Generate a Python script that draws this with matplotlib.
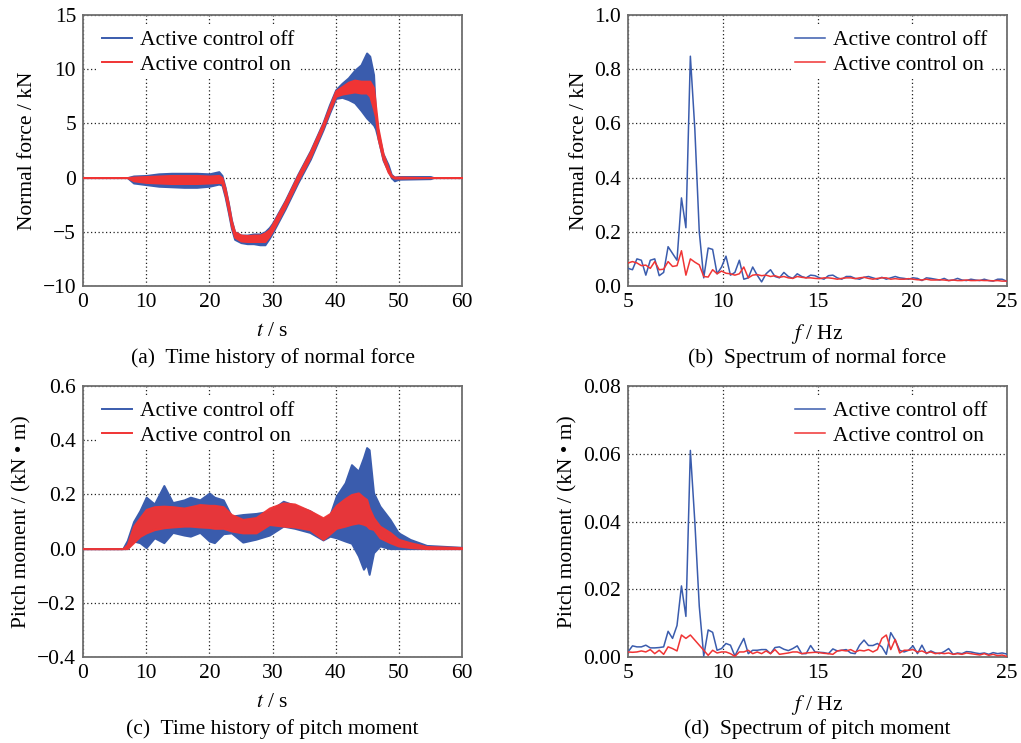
import numpy as np
import matplotlib
matplotlib.use("Agg")
import matplotlib.pyplot as plt

plt.rcParams["font.family"] = ["Liberation Serif", "DejaVu Serif"]
plt.rcParams["mathtext.fontset"] = "stix"

AZUL, ROJO = "#3a5cad", "#f03434"

# ---------------------------------------------------------------------------
# (a) fuerza normal: envolvente (max / min) de la senal
# ---------------------------------------------------------------------------
t_a = [0, 7, 8, 10, 12, 14, 16, 18, 20, 21.5,
       22, 22.5, 23, 23.5, 24, 25, 26, 27, 28, 28.8,
       29.5, 30, 32, 34, 36, 38, 39, 40, 41, 42,
       43, 44, 44.9, 45.4, 46, 46.3, 46.7, 47.5, 48.3, 48.8,
       49.3, 50, 55, 55.5, 60]
fn_off_hi = [0, 0, 0.15, 0.2, 0.35, 0.4, 0.4, 0.4, 0.35, 0.55,
             0.2, -0.9, -2.3, -3.9, -5.0, -5.3, -5.3, -5.2, -5.2, -5.0,
             -4.6, -4.2, -2.1, 0.3, 2.5, 5.1, 6.7, 8.1, 8.7, 9.2,
             9.9, 10.4, 11.5, 11.2, 9.5, 6.1, 4.2, 2.2, 1.2, 0.3,
             0.05, 0.1, 0.1, 0, 0]
fn_off_lo = [0, 0, -0.5, -0.65, -0.8, -0.85, -0.9, -0.9, -0.8, -0.6,
             -0.7, -1.8, -3.2, -4.7, -5.7, -6.0, -6.1, -6.1, -6.2, -6.2,
             -5.6, -5.1, -2.9, -0.5, 1.7, 4.4, 5.9, 7.3, 7.4, 7.2,
             6.9, 6.2, 5.5, 5.2, 4.85, 4.5, 3.6, 1.6, 0.6, 0.0,
             -0.3, -0.15, -0.1, 0, 0]
fn_on_hi = [0, 0, 0.05, 0.1, 0.15, 0.2, 0.2, 0.2, 0.15, 0.2,
            0.0, -1.0, -2.4, -4.0, -5.0, -5.3, -5.35, -5.3, -5.3, -5.1,
            -4.8, -4.3, -2.2, 0.2, 2.4, 5.0, 6.5, 8.0, 8.4, 8.8,
            9.0, 8.9, 8.9, 8.9, 8.3, 6.7, 4.6, 2.2, 0.9, 0.2,
            0.05, 0.05, 0.0, 0, 0]
fn_on_lo = [0, 0, -0.3, -0.45, -0.5, -0.55, -0.55, -0.55, -0.5, -0.45,
            -0.5, -1.6, -3.0, -4.5, -5.5, -5.85, -5.9, -5.9, -5.9, -5.9,
            -5.4, -4.9, -2.7, -0.3, 1.9, 4.6, 6.1, 7.5, 7.7, 7.8,
            7.9, 7.8, 7.8, 7.5, 6.3, 5.6, 3.6, 1.7, 0.5, 0.1,
            -0.05, -0.05, 0, 0, 0]

# ---------------------------------------------------------------------------
# (c) momento de cabeceo: envolvente
# ---------------------------------------------------------------------------
t_c = [0, 6.3, 7, 8, 9, 10, 11.3, 12.8, 14.2, 16,
       17, 18.5, 20, 20.8, 22.2, 23.5, 25.3, 27.4, 29.5, 31.7,
       33.5, 35.9, 38, 39.1, 40.1, 41.5, 42.5, 43.6, 44.4, 44.9,
       45.3, 46, 47, 48.6, 49.9, 51.8, 54.4, 60]
pm_off_hi = [0, 0, 0.03, 0.10, 0.14, 0.19, 0.165, 0.233, 0.17, 0.18,
             0.19, 0.18, 0.205, 0.19, 0.18, 0.12, 0.126, 0.13, 0.138, 0.175,
             0.16, 0.14, 0.108, 0.126, 0.194, 0.243, 0.31, 0.286, 0.336, 0.373,
             0.365, 0.206, 0.157, 0.108, 0.059, 0.034, 0.012, 0.005]
pm_off_lo = [0, 0, 0, 0.028, 0.022, 0.004, 0.04, 0.022, 0.06, 0.05,
             0.046, 0.06, 0.028, 0.022, 0.055, 0.058, 0.024, 0.035, 0.05, 0.083,
             0.075, 0.06, 0.032, 0.046, 0.04, 0.028, 0.02, -0.027, -0.076, -0.058,
             -0.095, -0.015, 0.01, 0, 0, 0, 0, 0]
pm_on_hi = [0, 0, 0.015, 0.083, 0.114, 0.145, 0.155, 0.157, 0.155, 0.15,
            0.155, 0.163, 0.16, 0.16, 0.155, 0.126, 0.108, 0.115, 0.15, 0.169,
            0.165, 0.14, 0.114, 0.13, 0.16, 0.185, 0.2, 0.206, 0.19, 0.182,
            0.15, 0.114, 0.083, 0.06, 0.035, 0.022, 0.008, 0.004]
pm_on_lo = [0, 0, 0, 0.022, 0.045, 0.058, 0.07, 0.077, 0.08, 0.083,
            0.083, 0.08, 0.078, 0.075, 0.075, 0.065, 0.058, 0.058, 0.089, 0.083,
            0.08, 0.07, 0.034, 0.055, 0.075, 0.083, 0.09, 0.095, 0.09, 0.085,
            0.075, 0.071, 0.04, 0.022, 0.01, 0.004, 0, 0]

# ---------------------------------------------------------------------------
# Espectros (b) y (d): bins de FFT cada 0.235 Hz desde 5 Hz
# ---------------------------------------------------------------------------
freq = 5 + 0.235 * np.arange(86)
sp_fn_off = [0.065, 0.06, 0.10, 0.095, 0.04, 0.095, 0.10, 0.038, 0.05, 0.145,
             0.12, 0.095, 0.325, 0.215, 0.848, 0.58, 0.20, 0.03, 0.14, 0.135,
             0.045, 0.07, 0.11, 0.04, 0.05, 0.095, 0.025, 0.03, 0.07, 0.04,
             0.015, 0.045, 0.06, 0.035, 0.03, 0.05, 0.035, 0.028, 0.045, 0.035,
             0.03, 0.04, 0.038, 0.03, 0.025, 0.038, 0.04, 0.03, 0.025, 0.035,
             0.035, 0.028, 0.025, 0.032, 0.035, 0.03, 0.025, 0.032, 0.025, 0.03,
             0.035, 0.03, 0.028, 0.025, 0.03, 0.028, 0.02, 0.03, 0.028, 0.025,
             0.022, 0.028, 0.02, 0.022, 0.028, 0.022, 0.02, 0.025, 0.022, 0.02,
             0.025, 0.02, 0.018, 0.025, 0.025, 0.018]
sp_fn_on = [0.085, 0.09, 0.085, 0.075, 0.077, 0.065, 0.09, 0.06, 0.062, 0.09,
            0.072, 0.075, 0.13, 0.04, 0.10, 0.088, 0.078, 0.035, 0.033, 0.06,
            0.045, 0.055, 0.047, 0.045, 0.04, 0.045, 0.07, 0.03, 0.04, 0.042,
            0.038, 0.04, 0.035, 0.038, 0.032, 0.035, 0.03, 0.028, 0.035, 0.032,
            0.03, 0.03, 0.028, 0.027, 0.03, 0.03, 0.028, 0.025, 0.028, 0.03,
            0.03, 0.027, 0.03, 0.032, 0.028, 0.025, 0.028, 0.03, 0.03, 0.025,
            0.027, 0.025, 0.025, 0.027, 0.025, 0.023, 0.022, 0.025, 0.022, 0.022,
            0.023, 0.022, 0.02, 0.022, 0.02, 0.02, 0.022, 0.02, 0.02, 0.021,
            0.02, 0.02, 0.019, 0.02, 0.018, 0.018]
sp_pm_off = [0.0015, 0.0033, 0.003, 0.003, 0.0035, 0.0027, 0.0027, 0.0028, 0.003, 0.0076,
             0.0055, 0.0093, 0.021, 0.012, 0.061, 0.040, 0.015, 0.0003, 0.008, 0.0073,
             0.002, 0.0025, 0.004, 0.0035, 0.0003, 0.003, 0.0055, 0.001, 0.002, 0.002,
             0.0022, 0.0022, 0.001, 0.0028, 0.003, 0.0023, 0.0019, 0.0025, 0.0033, 0.001,
             0.001, 0.0034, 0.0015, 0.0014, 0.0013, 0.001, 0.0024, 0.0018, 0.002, 0.0022,
             0.0012, 0.001, 0.0035, 0.005, 0.0034, 0.0034, 0.004, 0.003, 0.0008, 0.0072,
             0.005, 0.002, 0.0015, 0.002, 0.0033, 0.001, 0.0035, 0.001, 0.0018, 0.0012,
             0.001, 0.0016, 0.0025, 0.0008, 0.0012, 0.001, 0.0016, 0.0015, 0.0012, 0.001,
             0.0012, 0.0008, 0.0013, 0.001, 0.0012, 0.0009]
sp_pm_on = [0.0015, 0.0014, 0.0015, 0.0018, 0.0015, 0.0022, 0.001, 0.002, 0.0008, 0.003,
            0.0025, 0.0018, 0.0065, 0.0055, 0.0065, 0.005, 0.0035, 0.002, 0.0005, 0.002,
            0.0012, 0.0015, 0.0015, 0.001, 0.0002, 0.0015, 0.0015, 0.002, 0.001, 0.0015,
            0.001, 0.0018, 0.001, 0.0022, 0.0008, 0.001, 0.0012, 0.0015, 0.0015, 0.001,
            0.0012, 0.0013, 0.0014, 0.0013, 0.0011, 0.001, 0.0008, 0.0018, 0.002, 0.0018,
            0.0022, 0.0015, 0.002, 0.0018, 0.0022, 0.0015, 0.0022, 0.0055, 0.0065, 0.0022,
            0.0052, 0.0012, 0.002, 0.002, 0.0022, 0.0015, 0.0018, 0.0012, 0.0015, 0.001,
            0.0012, 0.001, 0.0012, 0.0008, 0.001, 0.0008, 0.0012, 0.001, 0.0008, 0.0006,
            0.001, 0.0005, 0.0008, 0.0004, 0.0006, 0.0002]

LEYENDA = ["Active control off", "Active control on"]
FS = 15.5


def estilo(ax, xlim, ylim, xticks, yticks, yfmt, xlabel, ylabel, caption, cap_y):
    ax.set_xlim(*xlim)
    ax.set_ylim(*ylim)
    ax.set_xticks(xticks)
    ax.set_yticks(yticks)
    ax.set_yticklabels([yfmt.format(v).replace("-", "\u2212") for v in yticks])
    ax.tick_params(length=0, labelsize=FS, pad=5)
    ax.grid(True, ls=(0, (1, 2)), lw=0.9, color="#222")
    for s in ax.spines.values():
        s.set_color("#6e6e6e")
        s.set_linewidth(1.3)
    ax.set_xlabel(xlabel, fontsize=FS, labelpad=7)
    ax.set_ylabel(ylabel, fontsize=FS, labelpad=4)
    ax.text(0.5, cap_y, caption, transform=ax.transAxes, ha="center",
            va="center", fontsize=FS)


def leyenda(ax, loc, anchor):
    lg = ax.legend(loc=loc, bbox_to_anchor=anchor, fontsize=FS, frameon=True,
                   handlelength=1.35, handletextpad=0.4, labelspacing=0.2,
                   borderpad=0.2, borderaxespad=0.0)
    lg.get_frame().set_facecolor("white")
    lg.get_frame().set_edgecolor("none")
    lg.get_frame().set_alpha(1)


fig = plt.figure(figsize=(10.21, 7.43), dpi=100)
W, H = 0.3712, 0.3647
ax_a = fig.add_axes([0.0813, 0.6151, W, H])
ax_b = fig.add_axes([0.6151, 0.6151, W, H])
ax_c = fig.add_axes([0.0813, 0.1157, W, H])
ax_d = fig.add_axes([0.6151, 0.1157, W, H])

# (a)
ax_a.fill_between(t_a, fn_off_lo, fn_off_hi, color=AZUL, lw=1.4, zorder=3)
ax_a.fill_between(t_a, fn_on_lo, fn_on_hi, color=ROJO, lw=1.4, zorder=4)
ax_a.plot([], [], color=AZUL, lw=1.4, label=LEYENDA[0])
ax_a.plot([], [], color=ROJO, lw=1.4, label=LEYENDA[1])
estilo(ax_a, (0, 60), (-10, 15), range(0, 61, 10), [-10, -5, 0, 5, 10, 15], "{:g}",
       r"$t$ / s", "Normal force / kN", "(a)  Time history of normal force", -0.265)
leyenda(ax_a, "upper left", (0.04, 0.96))

# (b)
ax_b.plot(freq, sp_fn_off, color=AZUL, lw=1.1, label=LEYENDA[0], zorder=3)
ax_b.plot(freq, sp_fn_on, color=ROJO, lw=1.1, label=LEYENDA[1], zorder=4)
estilo(ax_b, (5, 25), (0, 1.0), [5, 10, 15, 20, 25], np.arange(0, 1.01, 0.2), "{:.1f}",
       r"$f$ / Hz", "Normal force / kN", "(b)  Spectrum of normal force", -0.265)
leyenda(ax_b, "upper right", (0.96, 0.96))

# (c)
ax_c.fill_between(t_c, pm_off_lo, pm_off_hi, color=AZUL, lw=1.4, zorder=3)
ax_c.fill_between(t_c, pm_on_lo, pm_on_hi, facecolor=ROJO, edgecolor=ROJO,
                  alpha=0.95, lw=1.4, zorder=4)
ax_c.plot([], [], color=AZUL, lw=1.4, label=LEYENDA[0])
ax_c.plot([], [], color=ROJO, lw=1.4, label=LEYENDA[1])
estilo(ax_c, (0, 60), (-0.4, 0.6), range(0, 61, 10), [-0.4, -0.2, 0.0, 0.2, 0.4, 0.6], "{:.1f}",
       r"$t$ / s", "Pitch moment / (kN \u2022 m)", "(c)  Time history of pitch moment", -0.265)
leyenda(ax_c, "upper left", (0.04, 0.96))

# (d)
ax_d.plot(freq, sp_pm_off, color=AZUL, lw=1.1, label=LEYENDA[0], zorder=3)
ax_d.plot(freq, sp_pm_on, color=ROJO, lw=1.1, label=LEYENDA[1], zorder=4)
estilo(ax_d, (5, 25), (0, 0.08), [5, 10, 15, 20, 25], [0, 0.02, 0.04, 0.06, 0.08], "{:.2f}",
       r"$f$ / Hz", "Pitch moment / (kN \u2022 m)", "(d)  Spectrum of pitch moment", -0.265)
leyenda(ax_d, "upper right", (0.96, 0.96))

fig.savefig("out.png", dpi=100)
